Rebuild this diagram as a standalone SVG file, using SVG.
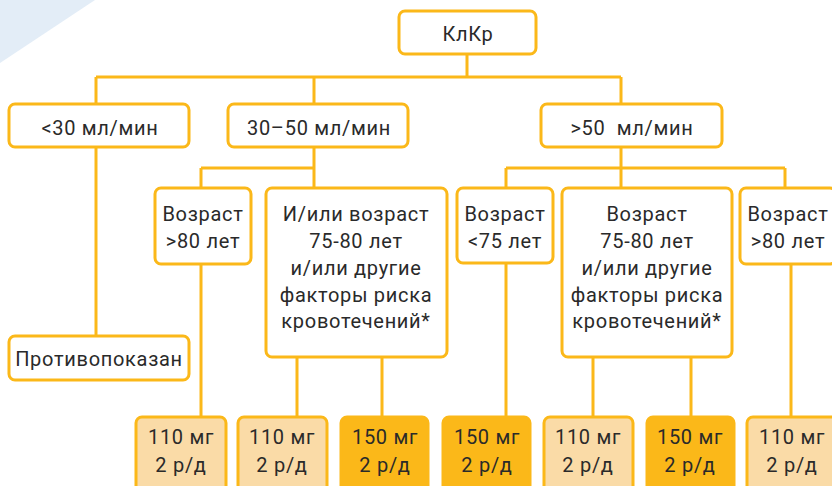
<svg xmlns="http://www.w3.org/2000/svg" width="832" height="486" viewBox="0 0 832 486">
<style>
.box{fill:#ffffff;stroke:#fbb819;stroke-width:3}
.lt{fill:#fadba7;stroke:#fbb819;stroke-width:3}
.dk{fill:#fbb819;stroke:#fbb819;stroke-width:3}
.ln{fill:none;stroke:#fbb819;stroke-width:3}
text{font-family:Roboto,"DejaVu Sans",sans-serif;font-size:20px;letter-spacing:0.7px;fill:#2a2a2a;text-anchor:middle}
</style>
<polygon points="0,0 95,0 0,63" fill="#e3edf7"/>
<g id="connectors">
<path class="ln" d="M467,54V77M96,77H621M96,77V104M314,77V104M621,77V104"/>
<path class="ln" d="M96,147V336"/>
<path class="ln" d="M314,147V188M201,168H314M201,168V188"/>
<path class="ln" d="M621,147V188M506,168H785M506,168V188M785,168V188"/>
<path class="ln" d="M201,264V417M297,357V417M382,357V417"/>
<path class="ln" d="M506,263V417M593,357V417M691,357V417M791,264V417"/>
</g>
<g id="n-klkr"><rect class="box" x="399" y="11" width="137" height="43" rx="6"/><text x="468" y="41">КлКр</text></g>
<g id="n-lt30"><rect class="box" x="9" y="104" width="180" height="43" rx="6"/><text x="100" y="135">&lt;30 мл/мин</text></g>
<g id="n-30-50"><rect class="box" x="228" y="104" width="180" height="43" rx="6"/><text x="319" y="135">30–50 мл/мин</text></g>
<g id="n-gt50"><rect class="box" x="541" y="104" width="181" height="43" rx="6"/><text x="632" y="135" xml:space="preserve">&gt;50  мл/мин</text></g>
<g id="n-contra"><rect class="box" x="9" y="336" width="180" height="44" rx="6"/><text x="99" y="366">Противопоказан</text></g>
<g id="n-age80a"><rect class="box" x="155" y="188" width="96" height="76" rx="6"/><text x="203" y="221">Возраст</text><text x="203" y="248">&gt;80 лет</text></g>
<g id="n-risk-a"><rect class="box" x="266" y="188" width="181" height="169" rx="6"/><text x="356" y="221">И/или возраст</text><text x="356" y="248">75-80 лет</text><text x="356" y="275">и/или другие</text><text x="356" y="302">факторы риска</text><text x="356" y="328">кровотечений*</text></g>
<g id="n-age75"><rect class="box" x="457" y="188" width="96" height="75" rx="6"/><text x="505" y="221">Возраст</text><text x="505" y="248">&lt;75 лет</text></g>
<g id="n-risk-b"><rect class="box" x="562" y="188" width="170" height="169" rx="6"/><text x="647" y="221">Возраст</text><text x="647" y="248">75-80 лет</text><text x="647" y="275">и/или другие</text><text x="647" y="302">факторы риска</text><text x="647" y="328">кровотечений*</text></g>
<g id="n-age80b"><rect class="box" x="740" y="188" width="96" height="76" rx="6"/><text x="788" y="221">Возраст</text><text x="788" y="248">&gt;80 лет</text></g>
<g id="d1"><rect class="lt" x="136" y="417" width="90" height="80" rx="6"/><text x="181" y="444">110 мг</text><text x="181" y="472">2 р/д</text></g>
<g id="d2"><rect class="lt" x="238" y="417" width="89" height="80" rx="6"/><text x="282" y="444">110 мг</text><text x="282" y="472">2 р/д</text></g>
<g id="d3"><rect class="dk" x="341" y="417" width="87" height="80" rx="6"/><text x="385" y="444">150 мг</text><text x="385" y="472">2 р/д</text></g>
<g id="d4"><rect class="dk" x="443" y="417" width="87" height="80" rx="6"/><text x="487" y="444">150 мг</text><text x="487" y="472">2 р/д</text></g>
<g id="d5"><rect class="lt" x="544" y="417" width="89" height="80" rx="6"/><text x="588" y="444">110 мг</text><text x="588" y="472">2 р/д</text></g>
<g id="d6"><rect class="dk" x="647" y="417" width="87" height="80" rx="6"/><text x="690" y="444">150 мг</text><text x="690" y="472">2 р/д</text></g>
<g id="d7"><rect class="lt" x="747" y="417" width="90" height="80" rx="6"/><text x="792" y="444">110 мг</text><text x="792" y="472">2 р/д</text></g>
</svg>
